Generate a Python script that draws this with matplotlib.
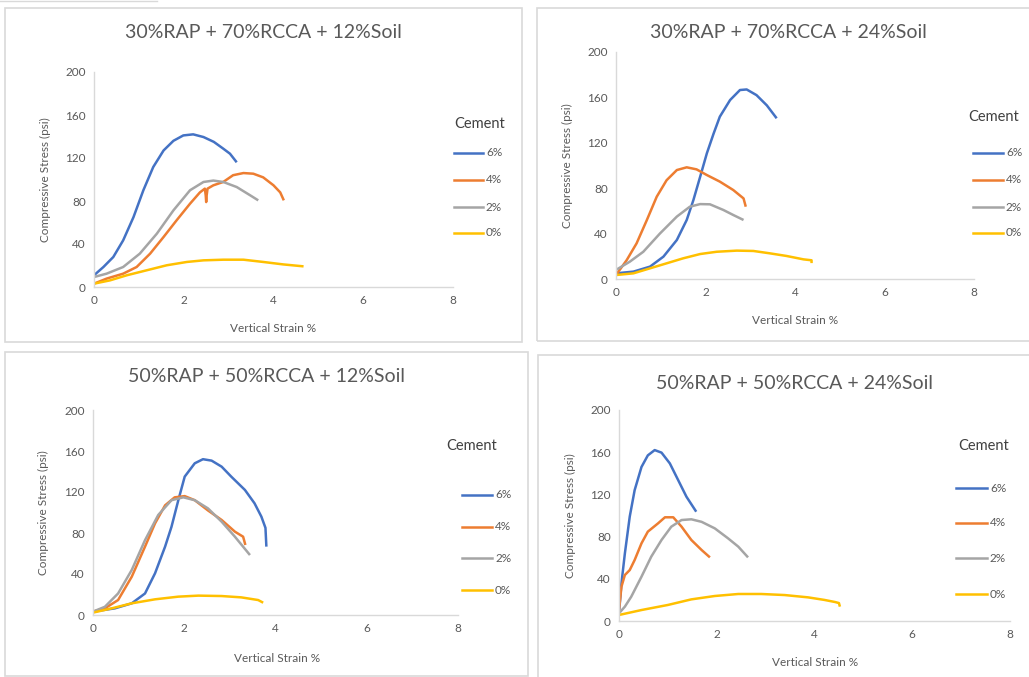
import numpy as np
import matplotlib
matplotlib.use('Agg')
import matplotlib.pyplot as plt
from matplotlib.patches import Rectangle
from matplotlib.lines import Line2D

plt.rcParams['font.family'] = ['Lato', 'DejaVu Sans']

# ---------------- data (strain %, stress psi) ----------------
titles = ['30%RAP + 70%RCCA + 12%Soil', '30%RAP + 70%RCCA + 24%Soil',
          '50%RAP + 50%RCCA + 12%Soil', '50%RAP + 50%RCCA + 24%Soil']
cement_labels = ['6%', '4%', '2%', '0%']
colors = ['#4472C4', '#ED7D31', '#A5A5A5', '#FFC000']

# panel 1
p1_x6 = [0, 0.21, 0.43, 0.65, 0.88, 1.1, 1.32, 1.55, 1.77, 1.99, 2.21, 2.44, 2.67, 2.88, 3.03, 3.18]
p1_y6 = [10.9, 18.6, 27.9, 43.4, 65, 90, 111.6, 127, 136, 141, 142, 139.5, 135, 128.7, 124, 116]
p1_x4 = [0, 0.28, 0.65, 0.95, 1.25, 1.55, 1.84, 2.14, 2.36, 2.47, 2.49, 2.5, 2.51, 2.53, 2.66,
         2.88, 3.1, 3.33, 3.55, 3.77, 4.0, 4.15, 4.23]
p1_y4 = [3.1, 7.8, 12.4, 18.6, 31, 46.5, 62, 77.5, 88, 91.5, 85, 79, 85, 91.5, 94.6,
         97.7, 104, 106, 105.4, 102, 94.6, 88, 80.6]
p1_x2 = [0, 0.28, 0.65, 1.02, 1.4, 1.77, 2.14, 2.44, 2.66, 2.88, 3.18, 3.48, 3.66]
p1_y2 = [9.3, 12.4, 18.6, 31, 49.6, 71.3, 90, 97.7, 99, 97.7, 93, 85.3, 80.6]
p1_x0 = [0, 0.36, 0.73, 1.17, 1.62, 2.07, 2.44, 2.88, 3.33, 3.77, 4.22, 4.67]
p1_y0 = [3.1, 6.2, 10.9, 15.5, 20.2, 23.3, 24.8, 25.4, 25.4, 23.3, 21, 19.2]

# panel 2
p2_x6 = [0, 0.39, 0.76, 1.06, 1.36, 1.58, 1.73, 1.88, 2.03, 2.18, 2.32, 2.55, 2.77, 2.92,
         3.14, 3.37, 3.59]
p2_y6 = [5, 6.5, 10.9, 19.7, 34.4, 52, 69.6, 90, 110.7, 128, 143, 157.7, 166.5, 167,
         162, 153, 141.6]
p2_x4 = [0, 0.24, 0.46, 0.69, 0.91, 1.13, 1.36, 1.58, 1.8, 2.03, 2.32, 2.62, 2.85, 2.9]
p2_y4 = [3.5, 16.7, 31.4, 52, 72.5, 87, 96, 98.4, 96.6, 91.6, 85.8, 78.4, 71, 63.7]
p2_x2 = [0, 0.31, 0.61, 0.98, 1.36, 1.65, 1.88, 2.1, 2.4, 2.62, 2.85]
p2_y2 = [8, 15.3, 24, 40, 55, 63.7, 66, 65.8, 60.8, 56.4, 52]
p2_x0 = [0, 0.39, 0.76, 1.13, 1.5, 1.88, 2.25, 2.7, 3.07, 3.44, 3.81, 4.19, 4.37, 4.37]
p2_y0 = [3.5, 5, 9.4, 13.8, 18.2, 22, 24, 25, 24.7, 22.6, 20.3, 17.3, 16.5, 14]

# panel 3
p3_x6 = [0, 0.48, 0.85, 1.14, 1.36, 1.58, 1.72, 1.87, 2.01, 2.23, 2.41, 2.6, 2.82, 3.03,
         3.33, 3.54, 3.69, 3.78, 3.8]
p3_y6 = [3.3, 6.5, 11.4, 21, 40.7, 66.7, 86, 112, 135, 148, 152, 150.6, 144.7, 135,
         122, 109, 96, 85, 66.7]
p3_x4 = [0, 0.26, 0.55, 0.85, 1.14, 1.36, 1.58, 1.79, 2.01, 2.23, 2.52, 2.82, 3.11, 3.29, 3.34]
p3_y4 = [3.3, 6.5, 14.6, 37.4, 66.7, 89.4, 107, 114.8, 116, 112, 102, 92.7, 81.3, 76.4, 68.3]
p3_x2 = [0, 0.26, 0.55, 0.85, 1.14, 1.43, 1.72, 1.98, 2.23, 2.52, 2.82, 3.11, 3.44]
p3_y2 = [3.3, 8, 21, 44, 73, 97.6, 112, 114.8, 112, 104, 91, 76.4, 58.5]
p3_x0 = [0, 0.41, 0.85, 1.36, 1.87, 2.31, 2.82, 3.25, 3.62, 3.73]
p3_y0 = [2.3, 6.5, 11.4, 15.3, 17.9, 18.9, 18.5, 17.2, 14.6, 12]

# panel 4
p4_x6 = [0, 0.05, 0.12, 0.22, 0.32, 0.46, 0.59, 0.73, 0.87, 1.04, 1.21, 1.38, 1.58]
p4_y6 = [7.3, 35.7, 64, 99, 124, 146, 157, 162, 159.6, 149.4, 133.6, 117.8, 103.6]
p4_x4 = [0, 0.05, 0.12, 0.22, 0.32, 0.46, 0.59, 0.8, 0.94, 1.11, 1.28, 1.48, 1.69, 1.86]
p4_y4 = [10.4, 32.5, 43.6, 48.3, 57.8, 73.6, 84.7, 92.6, 98.3, 98.3, 89.4, 76.8, 67.3, 60.3]
p4_x2 = [0, 0.12, 0.25, 0.46, 0.66, 0.87, 1.07, 1.28, 1.48, 1.69, 1.96, 2.23, 2.44, 2.64]
p4_y2 = [7.3, 13.6, 23, 42, 61, 76.8, 89.4, 95.7, 96.4, 94, 87.8, 78.4, 70.5, 60.3]
p4_x0 = [0, 0.46, 1.0, 1.48, 1.96, 2.44, 2.91, 3.39, 3.87, 4.2, 4.42, 4.5, 4.52]
p4_y0 = [5.7, 10.4, 15.2, 20.5, 23.7, 25.6, 25.6, 24.6, 22.4, 20, 18, 17, 13.6]

panels = [
    [(p1_x6, p1_y6), (p1_x4, p1_y4), (p1_x2, p1_y2), (p1_x0, p1_y0)],
    [(p2_x6, p2_y6), (p2_x4, p2_y4), (p2_x2, p2_y2), (p2_x0, p2_y0)],
    [(p3_x6, p3_y6), (p3_x4, p3_y4), (p3_x2, p3_y2), (p3_x0, p3_y0)],
    [(p4_x6, p4_y6), (p4_x4, p4_y4), (p4_x2, p4_y2), (p4_x0, p4_y0)],
]

# ---------------- layout (pixels) ----------------
W, H = 1029, 677
# axes: left, right, top, bottom
ax_px = [(94, 453, 72, 287), (616, 974, 52, 279), (93, 458, 410, 615), (619, 1010, 410, 621)]
# panel borders: x0, x1, y0, y1
box_px = [(5, 522, 8, 342), (537, 1040, 8, 341), (5, 528, 352, 676), (538, 1040, 355, 690)]
title_px = [(263, 33), (788, 33), (267, 377), (795, 383)]
ylab_px = [45, 567, 43, 570]
xlab_px = [(273, 328), (795, 320), (277, 658), (815, 663)]
# legend: title x, title y, line x0, line x1, entry ys
leg_px = [
    (480, 124, 454, 483, [153, 180, 207, 233]),
    (994, 117, 973, 1003, [153, 180, 207, 233]),
    (472, 446, 462, 492, [495, 527, 558, 590]),
    (984, 446, 956, 987, [488, 523, 558, 594]),
]

fig = plt.figure(figsize=(W / 100, H / 100), dpi=100)
fig.set_facecolor('white')


def fx(x):
    return x / W


def fy(y):
    return 1 - y / H


# stray line at very top
fig.add_artist(Line2D([fx(0), fx(157)], [fy(0.5), fy(0.5)], color='#D9D9D9', lw=1))

for i in range(4):
    bx0, bx1, by0, by1 = box_px[i]
    fig.add_artist(Rectangle((fx(bx0), fy(by1)), fx(bx1 - bx0), (by1 - by0) / H,
                             facecolor='none', edgecolor='#D9D9D9', lw=1.2))

    l, r, t, b = ax_px[i]
    ax = fig.add_axes([fx(l), fy(b), fx(r - l), (b - t) / H])
    for (xs, ys), c in zip(panels[i], colors):
        ax.plot(xs, ys, color=c, lw=1.8, solid_joinstyle='round', solid_capstyle='butt')
    ax.set_xlim(0, 8)
    ax.set_ylim(0, 200)
    ax.set_xticks([0, 2, 4, 6, 8])
    ax.set_yticks([0, 40, 80, 120, 160, 200])
    ax.tick_params(length=0, labelsize=8.5, colors='#595959', pad=6)
    for s in ['top', 'right']:
        ax.spines[s].set_visible(False)
    for s in ['left', 'bottom']:
        ax.spines[s].set_color('#D9D9D9')
        ax.spines[s].set_linewidth(1)
    ax.patch.set_alpha(0)

    fig.text(fx(title_px[i][0]), fy(title_px[i][1]), titles[i], ha='center', va='center',
             fontsize=14, color='#595959')
    fig.text(fx(ylab_px[i]), fy((t + b) / 2), 'Compressive Stress (psi)', rotation=90,
             ha='center', va='center', fontsize=8.5, color='#595959')
    fig.text(fx(xlab_px[i][0]), fy(xlab_px[i][1]), 'Vertical Strain %', ha='center',
             va='center', fontsize=8.5, color='#595959')

    tx, ty, lx0, lx1, eys = leg_px[i]
    fig.text(fx(tx), fy(ty), 'Cement', ha='center', va='center', fontsize=10.5,
             color='#404040')
    for ey, c, lab in zip(eys, colors, cement_labels):
        fig.add_artist(Line2D([fx(lx0), fx(lx1)], [fy(ey), fy(ey)], color=c, lw=1.8))
        fig.text(fx(lx1 + 3), fy(ey), lab, ha='left', va='center', fontsize=8.5,
                 color='#595959')

fig.savefig('out.png', dpi=100, facecolor='white')
